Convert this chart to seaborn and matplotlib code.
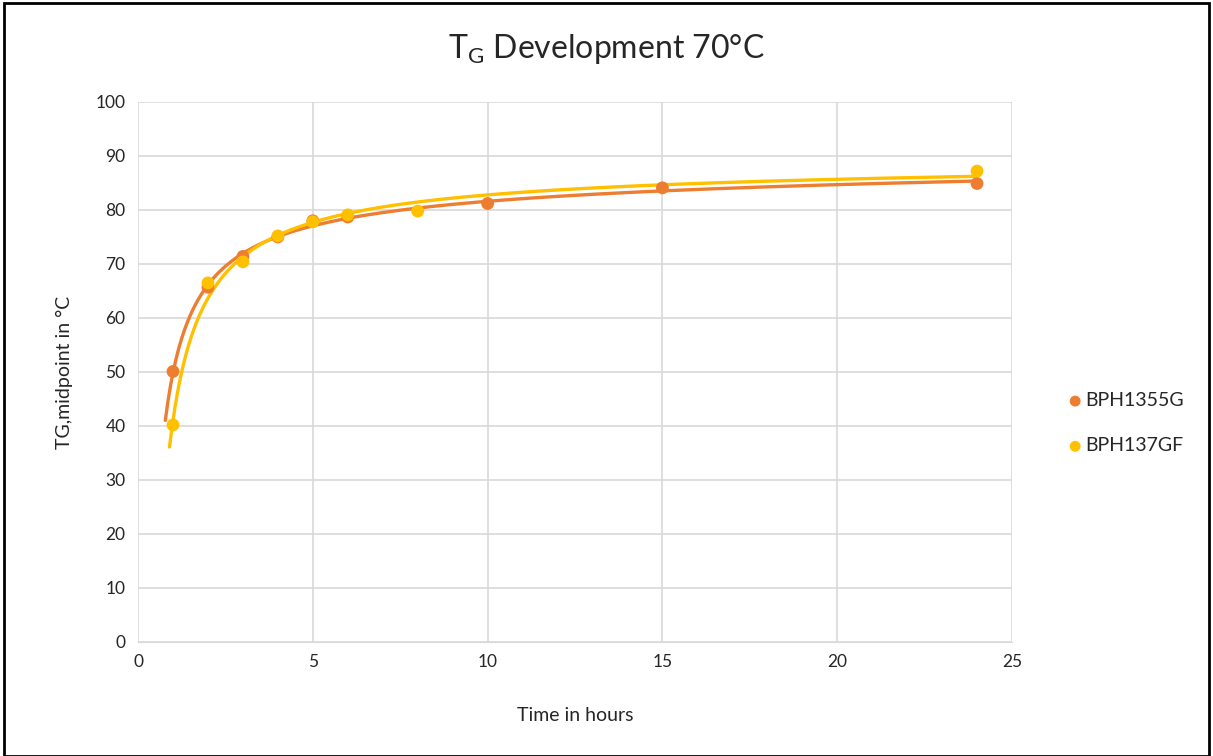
import numpy as np
import pandas as pd
import seaborn as sns
from matplotlib import pyplot as plt
from matplotlib.patches import Rectangle

# values
hours_1355 = [1, 2, 3, 4, 5, 6, 10, 15, 24]
tg_1355 = [50.1, 65.7, 71.4, 75.0, 78.0, 78.7, 81.2, 84.1, 84.9]

hours_137 = [1, 2, 3, 4, 5, 6, 8, 24]
tg_137 = [40.2, 66.5, 70.4, 75.2, 77.8, 79.1, 79.8, 87.2]

series_names = ["BPH1355G", "BPH137GF"]
colors = ["#ED7D31", "#FFC000"]
trend_start = [0.78, 0.9]


def trend(x, y, x_from, x_to=24):
    """least squares fit of y = a + b*ln(x) + c/x, drawn like the spreadsheet trendline"""
    x = np.asarray(x, float)
    basis = np.column_stack([np.ones_like(x), np.log(x), 1 / x])
    coef, *_ = np.linalg.lstsq(basis, np.asarray(y, float), rcond=None)
    xs = np.linspace(x_from, x_to, 300)
    ys = coef[0] + coef[1] * np.log(xs) + coef[2] / xs
    return pd.DataFrame({"x": xs, "y": ys})


sns.set_style("white")
plt.rcParams["font.family"] = ["Lato", "DejaVu Sans"]
plt.rcParams["mathtext.fontset"] = "custom"
plt.rcParams["mathtext.rm"] = "Lato"

fig = plt.figure(figsize=(12.13, 7.56), dpi=100)
ax = fig.add_axes([0.1138, 0.1508, 0.7205, 0.7143])

data = [(hours_1355, tg_1355), (hours_137, tg_137)]
for (xv, yv), start, c in zip(data, trend_start, colors):
    fit = trend(xv, yv, start)
    sns.lineplot(data=fit, x="x", y="y", ax=ax, color=c, linewidth=2.4, legend=False)

for (xv, yv), name, c in zip(data, series_names, colors):
    pts = pd.DataFrame({"x": xv, "y": yv})
    sns.scatterplot(data=pts, x="x", y="y", ax=ax, color=c, s=85, edgecolor="none",
                    label=name, zorder=5)

ax.set_xlim(0, 25)
ax.set_ylim(0, 100)
ax.set_xticks(range(0, 26, 5))
ax.set_yticks(range(0, 101, 10))
ax.grid(True, color="#d9d9d9", linewidth=1.2)
ax.set_axisbelow(True)
for s in ax.spines.values():
    s.set_visible(False)
ax.spines["bottom"].set_visible(True)
ax.spines["bottom"].set_color("#d9d9d9")
ax.tick_params(length=0, labelsize=12.5, colors="#262626", pad=9)

ax.set_xlabel("Time in hours", fontsize=14, color="#262626", labelpad=26)
ax.set_ylabel("TG,midpoint in °C", fontsize=14, color="#262626", labelpad=16)
fig.text(0.5, 0.935, r"T$_\mathregular{G}$ Development 70°C", fontsize=23,
         color="#262626", ha="center", va="center")

ax.legend(loc="center left", bbox_to_anchor=(1.03, 0.405), frameon=False, fontsize=14,
          handletextpad=-0.5, markerscale=0.85, labelspacing=1.45)

fig.patches.append(Rectangle((0.003, 0.0), 0.994, 0.996, transform=fig.transFigure,
                             fill=False, edgecolor="black", linewidth=2))

fig.savefig("out.png", dpi=100)
